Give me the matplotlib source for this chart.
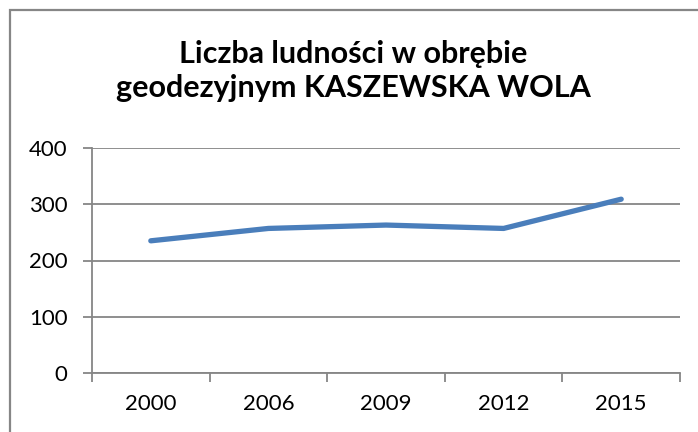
import matplotlib.pyplot as plt
from matplotlib.patches import Rectangle

years = ['2000', '2006', '2009', '2012', '2015']
population = [235, 257, 263, 257, 309]
y_ticks = [0, 100, 200, 300, 400]

plt.rcParams['font.family'] = ['Lato', 'DejaVu Sans']

W, H = 698, 432
fig = plt.figure(figsize=(W / 100, H / 100), dpi=100)
ax = fig.add_axes([92 / W, 1 - 373 / H, (680 - 92) / W, (373 - 148) / H])

grey = '#868686'

# chart frame, cut off at right and bottom like the screenshot
fig.patches.append(Rectangle((10 / W, -0.1), 1.2, 1 - 10 / H + 0.1,
                             transform=fig.transFigure, fill=False,
                             edgecolor=grey, linewidth=1.6))

x = list(range(len(years)))
ax.plot(x, population, color='#4a7ebb', linewidth=3.8, solid_capstyle='round',
        solid_joinstyle='round', zorder=3)

ax.set_xlim(-0.5, len(years) - 0.5)
ax.set_ylim(0, 400)
ax.set_yticks(y_ticks)
ax.set_yticklabels([str(v) for v in y_ticks], fontsize=16)
ax.yaxis.grid(True, color=grey, linewidth=1.3)
ax.set_axisbelow(True)

# ticks at category boundaries, labels at centres
ax.set_xticks([i - 0.5 for i in range(len(years) + 1)])
ax.set_xticklabels([])
ax.set_xticks(x, minor=True)
ax.set_xticklabels(years, minor=True, fontsize=16)
ax.tick_params(axis='x', which='minor', length=0, pad=15)
ax.tick_params(axis='x', which='major', length=6.5, width=1.3, color=grey, direction='out')
ax.tick_params(axis='y', length=6.5, width=1.3, color=grey, direction='out', pad=11)

for s in ['top', 'right']:
    ax.spines[s].set_visible(False)
for s in ['left', 'bottom']:
    ax.spines[s].set_color(grey)
    ax.spines[s].set_linewidth(1.3)

fig.text(353 / W, 1 - 71 / H, 'Liczba ludności w obrębie\ngeodezyjnym KASZEWSKA WOLA',
         ha='center', va='center', fontsize=22, fontweight='bold', linespacing=1.25)

fig.savefig('out.png', dpi=100)
